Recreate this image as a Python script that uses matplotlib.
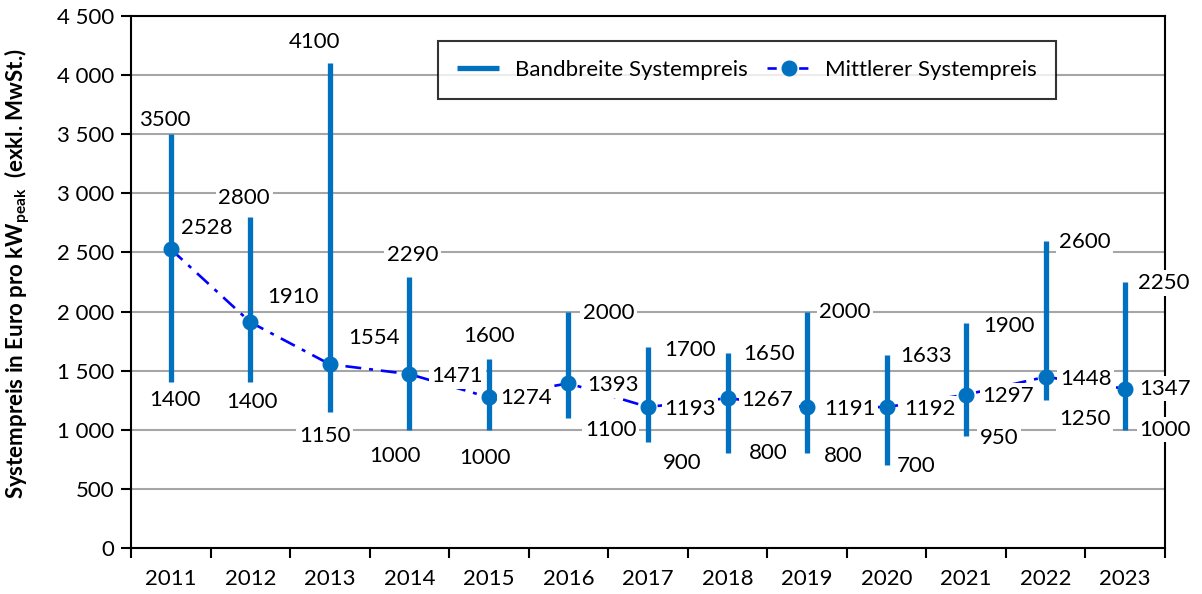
import matplotlib.pyplot as plt
import numpy as np

plt.rcParams['font.family'] = ['Lato', 'DejaVu Sans']
plt.rcParams['mathtext.fontset'] = 'custom'
plt.rcParams['mathtext.bf'] = 'Lato:bold'
plt.rcParams['mathtext.rm'] = 'Lato'

jahre = ['2011', '2012', '2013', '2014', '2015', '2016', '2017',
         '2018', '2019', '2020', '2021', '2022', '2023']
preis_max = [3500, 2800, 4100, 2290, 1600, 2000, 1700, 1650, 2000, 1633, 1900, 2600, 2250]
preis_min = [1400, 1400, 1150, 1000, 1000, 1100, 900, 800, 800, 700, 950, 1250, 1000]
preis_mittel = [2528, 1910, 1554, 1471, 1274, 1393, 1193, 1267, 1191, 1192, 1297, 1448, 1347]

# Versatz der Beschriftungen in Pixeln (max, mittel, min)
off_max = [(-6, 14), (-6, 19), (-15, 21), (3, 22), (0, 23), (40, -1), (42, -3),
           (41, -1), (38, 0), (39, -1), (43, -3), (39, -1), (39, -1)]
off_mittel = [(36, 21), (43, 25), (44, 26), (48, -2), (37, -1), (44, -2), (42, -2),
              (40, -2), (43, -2), (43, -2), (42, -1), (40, -2), (40, 0)]
off_min = [(4, -18), (2, -20), (-5, -24), (-14, -26), (-4, -28), (42, -12), (34, -21),
           (41, 0), (36, -3), (30, -1), (33, -2), (39, -19), (40, 0)]

blau = '#0070C0'
fs = 16

fig = plt.figure(figsize=(12.02, 5.94), dpi=100)
ax = fig.add_axes([131 / 1202, 46 / 594, 1034 / 1202, 532 / 594])

x = np.arange(len(jahre)) + 0.5

ax.vlines(x, preis_min, preis_max, color=blau, linewidth=3.8, zorder=3,
          label='Bandbreite Systempreis')
ax.plot(x, preis_mittel, color='#0000FF', linewidth=1.9, dashes=(6, 3, 1.5, 3),
        zorder=2)
ax.plot(x, preis_mittel, linestyle='none', marker='o', markersize=10.5,
        color=blau, zorder=4)
# nur fuer die Legende
ax.plot([], [], color='#0000FF', linewidth=1.9, dashes=(3.5, 2.5), marker='o',
        markersize=10.5, markerfacecolor=blau, markeredgecolor=blau,
        label='Mittlerer Systempreis')

box = dict(facecolor='white', edgecolor='none', pad=2)
for i in range(len(jahre)):
    for werte, offs in ((preis_max, off_max), (preis_mittel, off_mittel), (preis_min, off_min)):
        ax.annotate(str(werte[i]), (x[i], werte[i]), xytext=offs[i],
                    textcoords='offset pixels', ha='center', va='center',
                    fontsize=fs, bbox=box, zorder=5, annotation_clip=False)

ax.set_xlim(0, len(jahre))
ax.set_ylim(0, 4500)
ax.set_yticks(np.arange(0, 4501, 500))
ax.set_yticklabels([f'{v:,}'.replace(',', ' ') for v in range(0, 4501, 500)],
                   fontsize=fs)
ax.set_xticks(np.arange(0, len(jahre) + 1))
ax.set_xticklabels([])
ax.set_xticks(x, minor=True)
ax.set_xticklabels(jahre, minor=True, fontsize=fs)
ax.tick_params(axis='x', which='major', length=7, width=1.5, direction='out')
ax.tick_params(axis='x', which='minor', length=0, pad=15)
ax.tick_params(axis='y', length=7, width=1.5, direction='out', pad=5)

ax.grid(axis='y', color='#A6A6A6', linewidth=1.5, zorder=0)
ax.set_axisbelow(True)
for s in ax.spines.values():
    s.set_linewidth(1.5)
    s.set_color('black')

ax.set_ylabel(r'Systempreis in Euro pro kW$_{\mathbf{peak}}$  (exkl. MwSt.)',
              fontsize=16, fontweight='bold')
ax.yaxis.set_label_coords(-0.096, 0.515)

leg = ax.legend(loc='upper left', bbox_to_anchor=(307 / 1034, 1 - 25 / 532),
                borderaxespad=0, ncol=2, fontsize=fs, frameon=True,
                fancybox=False, handlelength=1.9, columnspacing=0.9,
                borderpad=0.85, handletextpad=0.7)
leg.get_frame().set_edgecolor('black')
leg.get_frame().set_linewidth(1.5)
leg.set_zorder(6)

fig.savefig('out.png', dpi=100)
